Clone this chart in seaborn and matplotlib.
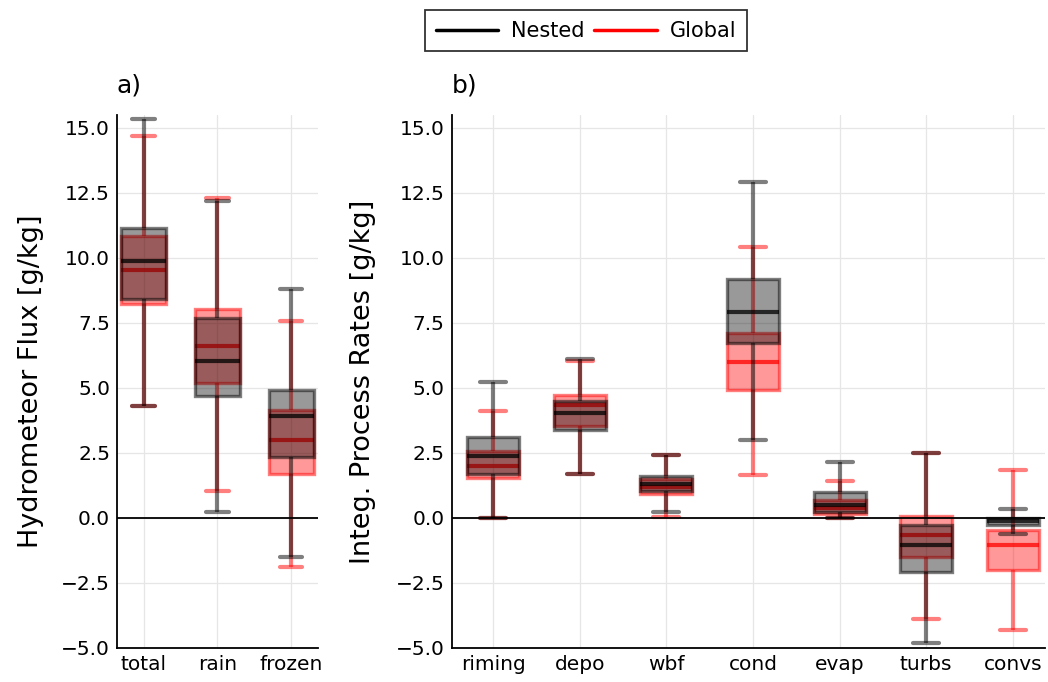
import numpy as np
import pandas as pd
import matplotlib
matplotlib.use("Agg")
import matplotlib.pyplot as plt
from matplotlib.lines import Line2D
import seaborn as sns

# ---------------- data (five-number summaries) ----------------
flux_cats = ["total", "rain", "frozen"]
flux_nested_min = [4.29, 0.24, -1.52]
flux_nested_q1 = [8.42, 4.70, 2.35]
flux_nested_med = [9.87, 6.03, 3.92]
flux_nested_q3 = [11.17, 7.69, 4.94]
flux_nested_max = [15.34, 12.18, 8.82]

flux_global_min = [4.29, 1.03, -1.89]
flux_global_q1 = [8.22, 5.20, 1.71]
flux_global_med = [9.52, 6.62, 2.99]
flux_global_q3 = [10.83, 8.05, 4.16]
flux_global_max = [14.71, 12.32, 7.59]

proc_cats = ["riming", "depo", "wbf", "cond", "evap", "turbs", "convs"]
proc_nested_min = [0.00, 1.68, 0.24, 2.99, 0.00, -4.81, -0.60]
proc_nested_q1 = [1.71, 3.38, 1.03, 6.72, 0.24, -2.09, -0.26]
proc_nested_med = [2.39, 4.02, 1.31, 7.93, 0.50, -1.04, -0.11]
proc_nested_q3 = [3.11, 4.49, 1.60, 9.19, 1.00, -0.26, 0.00]
proc_nested_max = [5.23, 6.13, 2.42, 12.93, 2.14, 2.49, 0.34]

proc_global_min = [0.00, 1.68, 0.03, 1.64, 0.00, -3.89, -4.30]
proc_global_q1 = [1.54, 3.55, 0.93, 4.94, 0.14, -1.52, -2.02]
proc_global_med = [1.99, 4.34, 1.21, 5.98, 0.38, -0.64, -1.04]
proc_global_q3 = [2.56, 4.74, 1.50, 7.12, 0.68, 0.07, -0.47]
proc_global_max = [4.10, 6.05, 2.42, 10.44, 1.42, 2.49, 1.85]


def five_number_frame(cats, mn, q1, med, q3, mx):
    # 5 values per category: percentiles 0/25/50/75/100 reproduce the summary exactly
    rows = []
    for c, a, b, m, d, e in zip(cats, mn, q1, med, q3, mx):
        for v in (a, b, m, d, e):
            rows.append({"cat": c, "val": v})
    return pd.DataFrame(rows)


flux_nested = five_number_frame(flux_cats, flux_nested_min, flux_nested_q1,
                                flux_nested_med, flux_nested_q3, flux_nested_max)
flux_global = five_number_frame(flux_cats, flux_global_min, flux_global_q1,
                                flux_global_med, flux_global_q3, flux_global_max)
proc_nested = five_number_frame(proc_cats, proc_nested_min, proc_nested_q1,
                                proc_nested_med, proc_nested_q3, proc_nested_max)
proc_global = five_number_frame(proc_cats, proc_global_min, proc_global_q1,
                                proc_global_med, proc_global_q3, proc_global_max)

# ---------------- style ----------------
sns.set_theme(style="white")
plt.rcParams["font.family"] = ["DejaVu Sans"]
for k in ["text.color", "axes.labelcolor", "xtick.color", "ytick.color"]:
    plt.rcParams[k] = "black"
plt.rcParams["xtick.direction"] = "in"
plt.rcParams["ytick.direction"] = "in"

fig = plt.figure(figsize=(10.48, 6.82), dpi=100)
ax1 = fig.add_axes([0.1116, 0.0499, 0.1918, 0.7815])
ax2 = fig.add_axes([0.431, 0.0499, 0.566, 0.7815])

styles = {
    "Nested": dict(face=(0, 0, 0, 0.40), edge=(0, 0, 0, 0.5), med=(0, 0, 0, 0.75), z=2.2),
    "Global": dict(face=(1, 0, 0, 0.40), edge=(1, 0, 0, 0.5), med=(1, 0, 0, 0.75), z=2.0),
}


def draw(ax, df, order, key):
    s = styles[key]
    z = s["z"]
    sns.boxplot(
        data=df, x="cat", y="val", order=order, ax=ax,
        whis=(0, 100), width=0.6, fill=True, showfliers=False,
        color=s["face"],
        boxprops=dict(facecolor=s["face"], edgecolor=s["edge"], linewidth=2.4, zorder=z),
        whiskerprops=dict(color=s["edge"], linewidth=3, zorder=z),
        capprops=dict(color=s["edge"], linewidth=3, zorder=z),
        medianprops=dict(color=s["med"], linewidth=3, zorder=z + 0.05),
    )


for ax, (dn, dg, order) in zip(
    [ax1, ax2],
    [(flux_nested, flux_global, flux_cats), (proc_nested, proc_global, proc_cats)],
):
    draw(ax, dg, order, "Global")
    draw(ax, dn, order, "Nested")
    ax.axhline(0, color="black", lw=1.3, zorder=3)
    ax.set_ylim(-5, 15.5)
    ax.set_yticks([-5, -2.5, 0, 2.5, 5, 7.5, 10, 12.5, 15])
    ax.set_yticklabels(["−5.0", "−2.5", "0.0", "2.5", "5.0", "7.5", "10.0", "12.5", "15.0"])
    ax.grid(True, color="#e6e6e6", lw=0.9)
    ax.set_axisbelow(True)
    for side in ["top", "right"]:
        ax.spines[side].set_visible(False)
    for side in ["left", "bottom"]:
        ax.spines[side].set_color("black")
        ax.spines[side].set_linewidth(1.3)
    ax.tick_params(axis="both", labelsize=14.5, length=5, width=1.2, color="black",
                   labelcolor="black", direction="in", pad=5)
    ax.set_xlabel("")

ax1.set_xlim(-0.36, 2.36)
ax2.set_xlim(-0.48, 6.37)
ax1.set_ylabel("Hydrometeor Flux [g/kg]", fontsize=19.5, labelpad=12)
ax2.set_ylabel("Integ. Process Rates [g/kg]", fontsize=19.5, labelpad=14)
ax1.set_title("a)", loc="left", fontsize=18, pad=16)
ax2.set_title("b)", loc="left", fontsize=18, pad=16)

handles = [Line2D([], [], color="black", lw=2.5), Line2D([], [], color="red", lw=2.5)]
leg = fig.legend(handles, ["Nested", "Global"], loc="upper center",
                 bbox_to_anchor=(0.559, 1.0), ncol=2, fontsize=15,
                 frameon=True, fancybox=False, edgecolor="black",
                 handlelength=3.0, columnspacing=0.5, handletextpad=0.6,
                 borderpad=0.5)
leg.get_frame().set_linewidth(1.3)

fig.savefig("out.png", dpi=100)
